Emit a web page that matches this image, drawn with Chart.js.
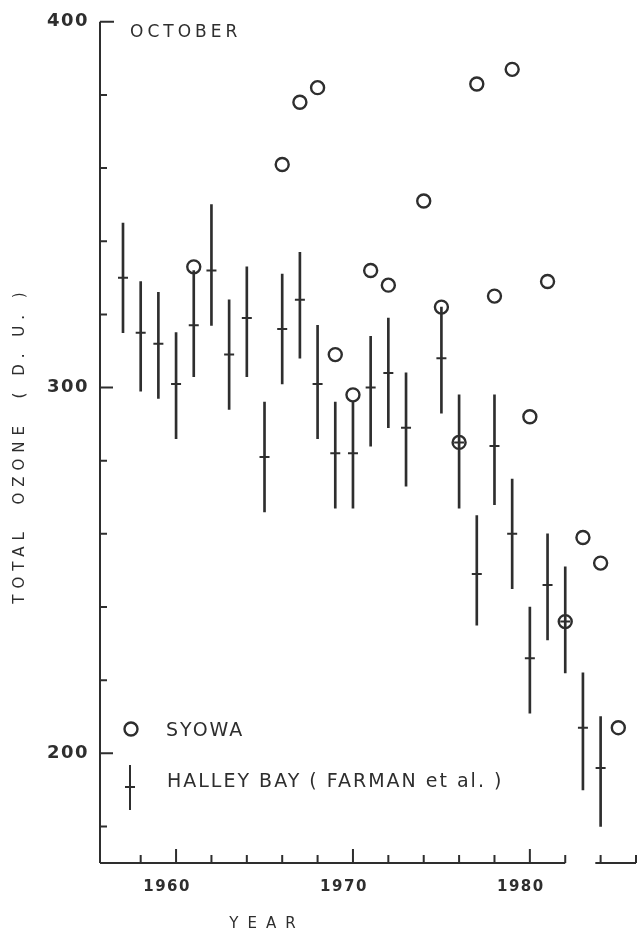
<!DOCTYPE html>
<html>
<head>
<meta charset="utf-8">
<script src="https://cdn.jsdelivr.net/npm/chart.js@4.4.0/dist/chart.umd.min.js"></script>
<style>
  html, body { margin: 0; padding: 0; background: #fff; }
  #wrap { width: 638px; height: 936px; }
</style>
</head>
<body>
<div id="wrap"><canvas id="chart" width="638" height="936"></canvas></div>
<script>
// Halley Bay October means with error bars (Farman et al.)
const halleyYears = [1957, 1958, 1959, 1960, 1961, 1962, 1963, 1964, 1965, 1966, 1967, 1968, 1969,
  1970, 1971, 1972, 1973, 1975, 1976, 1977, 1978, 1979, 1980, 1981, 1982, 1983, 1984];
const halleyMean = [330, 315, 312, 301, 317, 332, 309, 319, 281, 316, 324, 301, 282,
  282, 300, 304, 289, 308, 285, 249, 284, 260, 226, 246, 236, 207, 196];
const halleyHigh = [345, 329, 326, 315, 332, 350, 324, 333, 296, 331, 337, 317, 296,
  296, 314, 319, 304, 322, 298, 265, 298, 275, 240, 260, 251, 222, 210];
const halleyLow = [315, 299, 297, 286, 303, 317, 294, 303, 266, 301, 308, 286, 267,
  267, 284, 289, 273, 293, 267, 235, 268, 245, 211, 231, 222, 190, 180];

// Syowa October means
const syowaYears = [1961, 1966, 1967, 1968, 1969, 1970, 1971, 1972, 1974, 1975, 1976,
  1977, 1978, 1979, 1980, 1981, 1982, 1983, 1984, 1985];
const syowaValues = [333, 361, 378, 382, 309, 298, 332, 328, 351, 322, 285,
  383, 325, 387, 292, 329, 236, 259, 252, 207];

// axes
const yTickValues = [180, 200, 220, 240, 260, 280, 300, 320, 340, 360, 380, 400];
const yTickLabels = [200, 300, 400];
const xTickValues = [1958, 1960, 1962, 1964, 1966, 1968, 1970, 1972, 1974, 1976, 1978, 1980, 1982, 1984, 1986];
const xTickLabels = [1960, 1970, 1980];
const xBreak = [1982, 1983.7];

const INK = '#2e2e2e';
const FONT = '"DejaVu Sans", sans-serif';

const axesAndText = {
  id: 'axesAndText',
  beforeDraw(chart) {
    chart.ctx.letterSpacing = '1.5px';
  },
  beforeDatasetsDraw(chart) {
    const { ctx, chartArea: a, scales: { x, y } } = chart;
    ctx.save();
    ctx.strokeStyle = INK;
    ctx.lineWidth = 2;
    ctx.lineCap = 'butt';
    ctx.beginPath();
    // y axis, ticks pointing inward
    ctx.moveTo(a.left, a.bottom);
    ctx.lineTo(a.left, a.top);
    y.ticks.forEach(t => {
      const py = y.getPixelForValue(t.value);
      const len = t.value === 400 ? 14 : (yTickLabels.includes(t.value) ? 13 : 7);
      ctx.moveTo(a.left, py);
      ctx.lineTo(a.left + len, py);
    });
    // broken x axis
    ctx.moveTo(a.left, a.bottom);
    ctx.lineTo(x.getPixelForValue(xBreak[0]), a.bottom);
    ctx.moveTo(x.getPixelForValue(xBreak[1]), a.bottom);
    ctx.lineTo(a.right, a.bottom);
    x.ticks.forEach(t => {
      const px = x.getPixelForValue(t.value);
      const len = xTickLabels.includes(t.value) ? 14 : 8;
      ctx.moveTo(px, a.bottom);
      ctx.lineTo(px, a.bottom - len);
    });
    ctx.stroke();
    ctx.restore();
  },
  afterDraw(chart) {
    const { ctx, chartArea: a } = chart;
    ctx.save();
    ctx.fillStyle = INK;
    ctx.strokeStyle = INK;

    // month label
    ctx.font = '17px ' + FONT;
    ctx.letterSpacing = '4px';
    ctx.textAlign = 'left';
    ctx.textBaseline = 'alphabetic';
    ctx.fillText('OCTOBER', a.left + 30, a.top + 15);

    // legend
    ctx.letterSpacing = '2px';
    ctx.font = '19px ' + FONT;
    ctx.lineWidth = 2.4;
    ctx.beginPath();
    ctx.arc(a.left + 31, 729, 6.5, 0, Math.PI * 2);
    ctx.stroke();
    ctx.fillText('SYOWA', a.left + 66, 736);
    ctx.lineWidth = 2;
    ctx.beginPath();
    ctx.moveTo(a.left + 30, 765);
    ctx.lineTo(a.left + 30, 810);
    ctx.moveTo(a.left + 25, 787);
    ctx.lineTo(a.left + 35, 787);
    ctx.stroke();
    ctx.fillText('HALLEY BAY ( FARMAN et al. )', a.left + 67, 787);

    // axis titles
    ctx.font = '15px ' + FONT;
    ctx.letterSpacing = '9px';
    ctx.textAlign = 'center';
    ctx.textBaseline = 'middle';
    ctx.fillText('YEAR', a.left + 167, 924);

    ctx.translate(20, 445);
    ctx.rotate(-Math.PI / 2);
    ctx.letterSpacing = '6px';
    ctx.fillText('TOTAL  OZONE  ( D. U. )', 0, 0);
    ctx.restore();
  }
};

new Chart(document.getElementById('chart'), {
  type: 'scatter',
  data: {
    datasets: [
      {
        type: 'bar',
        label: 'HALLEY BAY range',
        data: halleyYears.map((yr, i) => ({ x: yr, y: [halleyLow[i], halleyHigh[i]] })),
        backgroundColor: INK,
        borderWidth: 0,
        barThickness: 2,
        grouped: false
      },
      {
        label: 'HALLEY BAY ( FARMAN et al. )',
        data: halleyYears.map((yr, i) => ({ x: yr, y: halleyMean[i] })),
        pointStyle: 'line',
        radius: 5,
        borderColor: INK,
        borderWidth: 2
      },
      {
        label: 'SYOWA',
        data: syowaYears.map((yr, i) => ({ x: yr, y: syowaValues[i] })),
        pointStyle: 'circle',
        radius: 6.5,
        backgroundColor: 'rgba(0,0,0,0)',
        borderColor: INK,
        borderWidth: 2.4
      }
    ]
  },
  options: {
    responsive: false,
    animation: false,
    devicePixelRatio: 1,
    layout: { autoPadding: false, padding: { top: 19, right: 2, left: 0, bottom: 0 } },
    plugins: { legend: { display: false }, tooltip: { enabled: false } },
    scales: {
      x: {
        type: 'linear',
        min: 1955.7,
        max: 1986,
        offset: false,
        grid: { display: false, drawTicks: false },
        border: { display: false },
        afterBuildTicks: s => { s.ticks = xTickValues.map(v => ({ value: v })); },
        afterFit: s => { s.height = 73; s.paddingLeft = 0; s.paddingRight = 0; },
        ticks: {
          autoSkip: false,
          maxRotation: 0,
          padding: 15,
          labelOffset: -9,
          color: INK,
          font: { family: FONT, size: 15, weight: 'bold' },
          callback: v => xTickLabels.includes(v) ? String(v) : ''
        }
      },
      y: {
        type: 'linear',
        min: 170,
        max: 400,
        grid: { display: false, drawTicks: false },
        border: { display: false },
        afterBuildTicks: s => { s.ticks = yTickValues.map(v => ({ value: v })); },
        afterFit: s => { s.width = 100; },
        ticks: {
          autoSkip: false,
          padding: 11,
          color: INK,
          font: { family: FONT, size: 18, weight: 'bold' },
          callback: v => yTickLabels.includes(v) ? String(v) : ''
        }
      }
    }
  },
  plugins: [axesAndText]
});
</script>
</body>
</html>
